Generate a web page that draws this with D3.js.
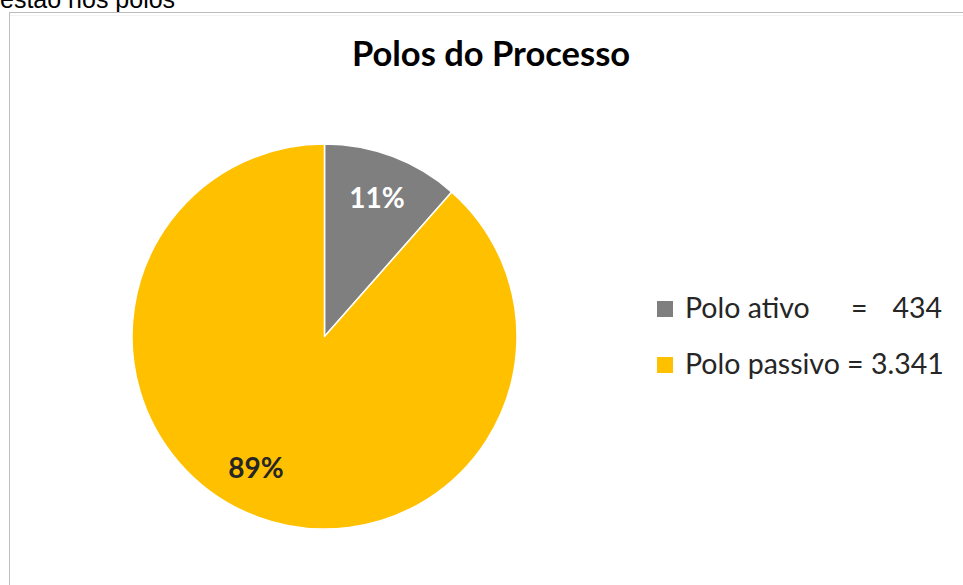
<!DOCTYPE html>
<html>
<head>
<meta charset="utf-8">
<script src="https://cdn.jsdelivr.net/npm/d3@7"></script>
<style>
  html, body { margin: 0; padding: 0; background: #fff; }
  svg { display: block; }
</style>
</head>
<body>
<svg id="chart" width="963" height="585"></svg>
<script>
// Polos do Processo — share of parties by procedural side
const categories = ["Polo ativo", "Polo passivo"];
const values = [434, 3341];
const valueLabels = ["434", "3.341"];
const colors = ["#7f7f7f", "#ffc000"];
const labelColors = ["#ffffff", "#262626"];
const title = "Polos do Processo";
const caption = "estão nos polos";

const svg = d3.select("#chart");
const W = 963, H = 585;
const font = "Lato, 'Open Sans', sans-serif";

// caption text running above the chart frame
svg.append("text")
  .attr("x", 0).attr("y", 8)
  .attr("font-family", "'Liberation Sans', Arial, sans-serif")
  .attr("font-size", 25)
  .attr("fill", "#000")
  .text(caption);

// chart frame
svg.append("rect")
  .attr("x", 9.5).attr("y", 12.5)
  .attr("width", W).attr("height", H)
  .attr("fill", "#fff")
  .attr("stroke", "#bdbdbd")
  .attr("stroke-width", 1);
svg.append("line")
  .attr("x1", 10).attr("x2", W).attr("y1", 15.5).attr("y2", 15.5)
  .attr("stroke", "#f3f3f3");

// title
svg.append("text")
  .attr("x", 491).attr("y", 66)
  .attr("text-anchor", "middle")
  .attr("font-family", font)
  .attr("font-weight", 700)
  .attr("font-size", 34.5)
  .attr("fill", "#000")
  .text(title);

// pie
const cx = 324.5, cy = 336.5, r = 192.5;
const data = categories.map((c, i) => ({ name: c, value: values[i], i }));
const pie = d3.pie().sort(null).value(d => d.value);
const arcs = pie(data);
const arc = d3.arc().innerRadius(0).outerRadius(r);
const total = d3.sum(values);

const g = svg.append("g").attr("transform", `translate(${cx},${cy})`);
g.selectAll("path.slice")
  .data(arcs)
  .join("path")
  .attr("class", "slice")
  .attr("d", arc)
  .attr("fill", d => colors[d.data.i])
  .attr("stroke", "#fff")
  .attr("stroke-width", 1.5)
  .attr("stroke-linejoin", "round");

// percentage labels inside the slices (best-fit placement nudges the big one)
const labelRadius = r * 0.77;
const labelNudge = [0, 0.12]; // radians added to the slice mid-angle
const pct = d3.format(".0%");
g.selectAll("text.pct")
  .data(arcs)
  .join("text")
  .attr("class", "pct")
  .attr("transform", d => {
    const a = (d.startAngle + d.endAngle) / 2 + labelNudge[d.data.i];
    return `translate(${labelRadius * Math.sin(a)},${-labelRadius * Math.cos(a)})`;
  })
  .attr("text-anchor", "middle")
  .attr("dy", "0.35em")
  .attr("font-family", font)
  .attr("font-weight", 700)
  .attr("font-size", 28)
  .attr("fill", d => labelColors[d.data.i])
  .text(d => pct(d.data.value / total));

// legend
const legend = svg.append("g").attr("transform", "translate(657,300)");
const rowH = 56;
const items = legend.selectAll("g.item")
  .data(data)
  .join("g")
  .attr("class", "item")
  .attr("transform", d => `translate(0,${d.i * rowH})`);
items.append("rect")
  .attr("x", 0).attr("y", 1)
  .attr("width", 16).attr("height", 16)
  .attr("fill", d => colors[d.i]);
const legendText = items.append("text")
  .attr("x", 28).attr("y", 18)
  .attr("font-family", font)
  .attr("font-size", 28.5)
  .attr("fill", "#262626");
legendText.append("tspan").text(d => d.name);
legendText.append("tspan")
  .attr("x", d => d.i === 0 ? 194 : null)
  .text(d => d.i === 0 ? "=" : " = ");
legendText.append("tspan")
  .attr("x", d => d.i === 0 ? 285 : null)
  .attr("text-anchor", d => d.i === 0 ? "end" : null)
  .text(d => valueLabels[d.i]);
</script>
</body>
</html>
